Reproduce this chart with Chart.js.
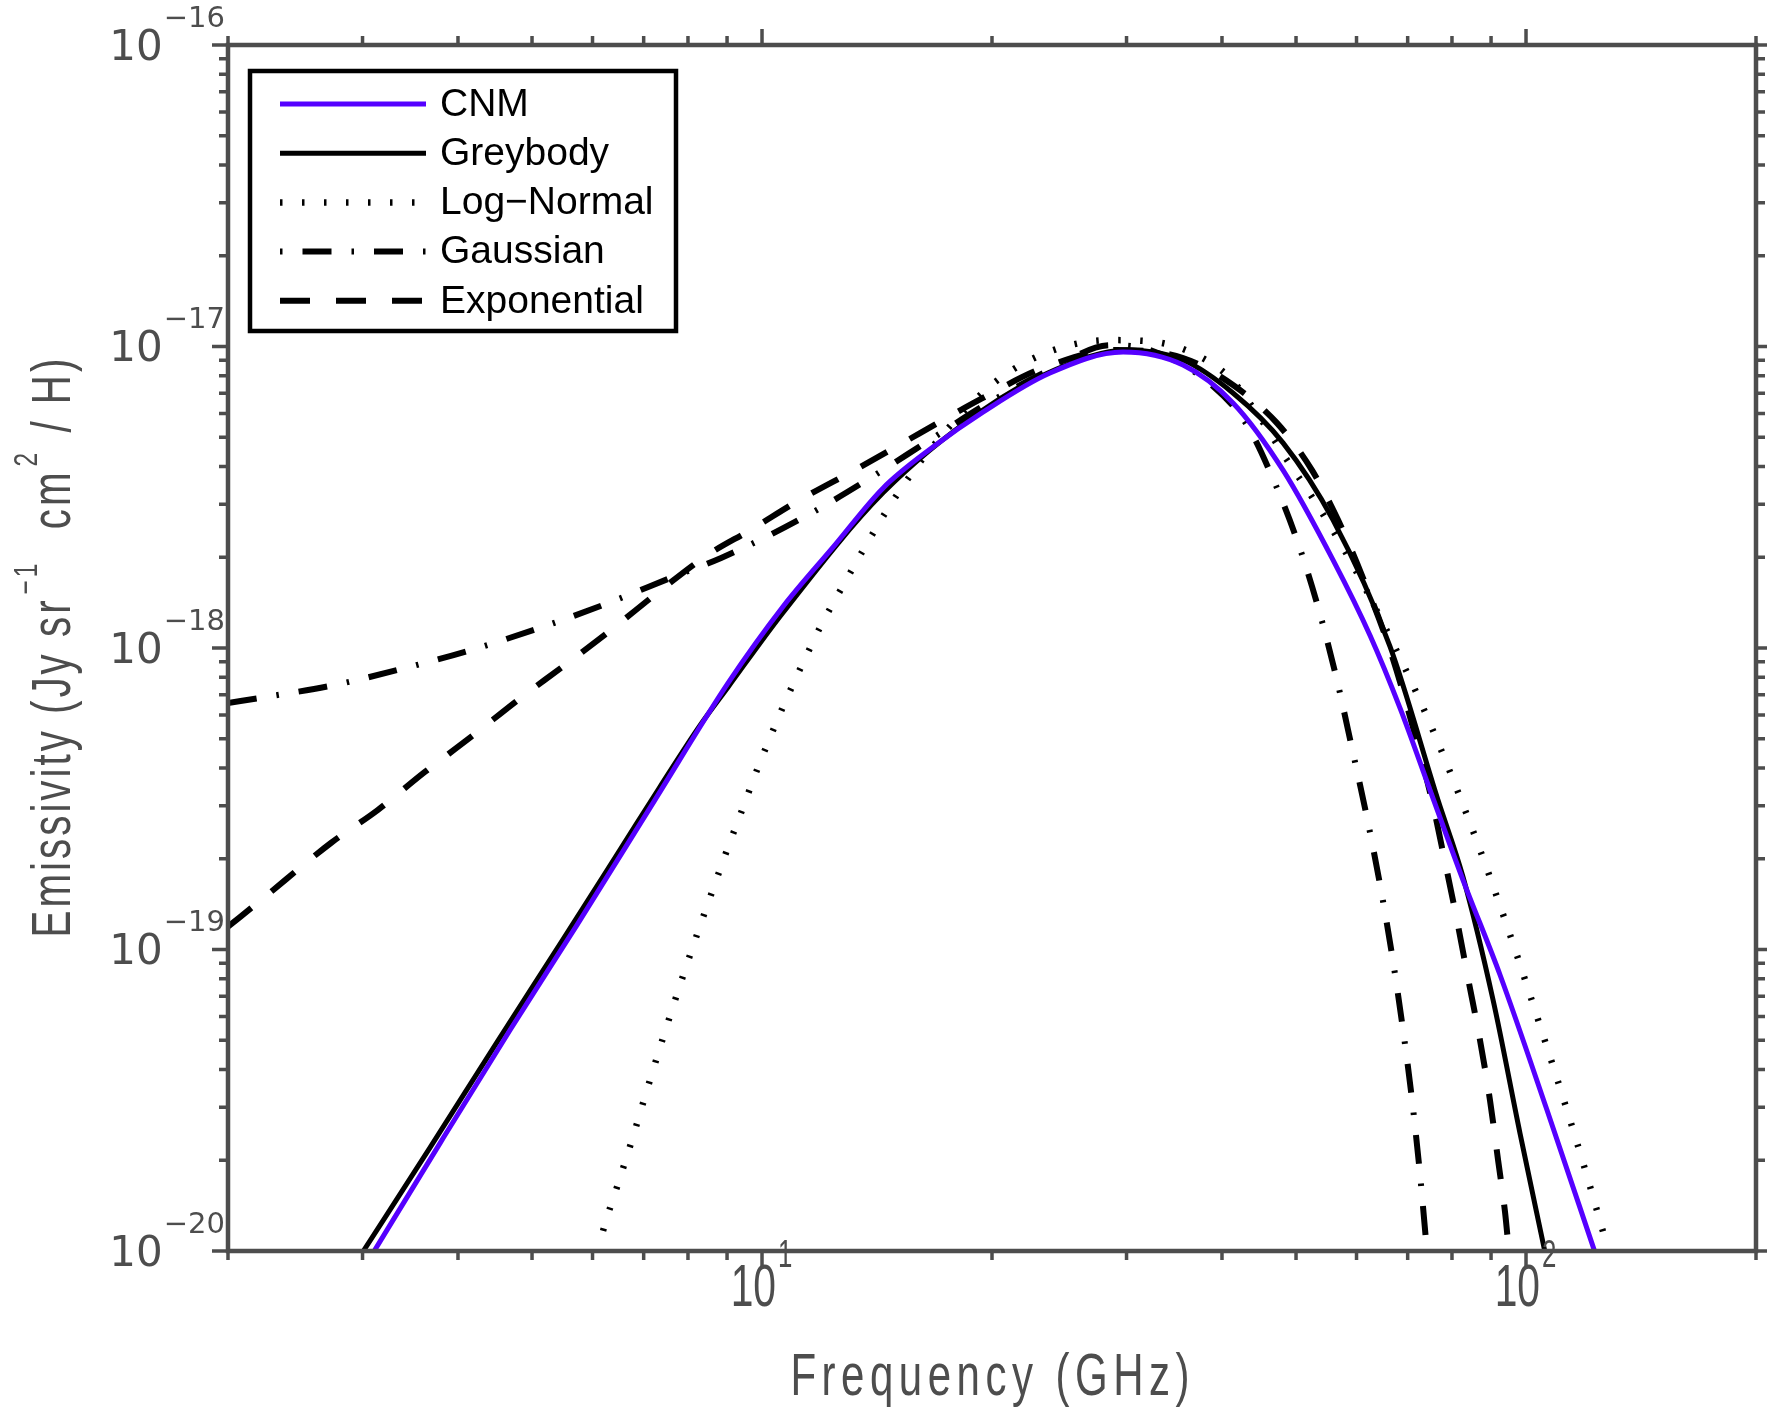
<!DOCTYPE html>
<html>
<head>
<meta charset="utf-8">
<title>Emissivity vs frequency</title>
<script src="https://cdn.jsdelivr.net/npm/chart.js@4.4.1/dist/chart.umd.min.js"></script>
<style>
  html, body { margin: 0; padding: 0; background: #fff; }
  #wrap { width: 1767px; height: 1411px; position: relative; }
</style>
</head>
<body>
<div id="wrap"><canvas id="myChart"></canvas></div>
<script>
// frequency in GHz, emissivity in Jy sr^-1 cm^2 / H
const cnmFreq = [3.10, 3.79, 4.68, 5.73, 7.24, 9.03, 10.65, 12.39, 14.40, 16.74, 19.46, 23.82, 29.69, 35.57, 41.35, 48.08, 55.89, 62.50, 68.41, 74.88, 82.71, 92.48, 106.5, 123.1];
const cnmEmis = [9.9e-21, 2.28e-20, 5.41e-20, 1.21e-19, 3.13e-19, 7.66e-19, 1.37e-18, 2.16e-18, 3.39e-18, 4.64e-18, 6.06e-18, 8.17e-18, 9.59e-18, 8.68e-18, 6.50e-18, 3.89e-18, 1.96e-18, 1.10e-18, 6.32e-19, 3.38e-19, 1.70e-19, 8.23e-20, 2.94e-20, 9.9e-21];

const greyFreq = [3.00, 3.68, 4.50, 5.49, 6.54, 7.35, 8.30, 9.03, 10.65, 14.40, 19.46, 23.82, 30.05, 35.57, 41.35, 48.08, 55.89, 66.38, 76.70, 82.71, 90.55, 98.20, 105.9];
const greyEmis = [9.9e-21, 2.21e-20, 4.93e-20, 1.08e-19, 2.17e-19, 3.46e-19, 5.55e-19, 7.43e-19, 1.31e-18, 3.27e-18, 6.16e-18, 8.23e-18, 9.74e-18, 9.02e-18, 7.01e-18, 4.79e-18, 2.66e-18, 1.01e-18, 3.13e-19, 1.74e-19, 6.80e-20, 2.46e-20, 9.9e-21];

const logNormFreq = [6.10, 6.19, 6.46, 6.76, 7.07, 7.42, 7.81, 8.22, 8.60, 9.00, 9.44, 9.85, 10.65, 11.28, 11.91, 12.73, 13.56, 14.58, 15.72, 17.00, 18.44, 20.18, 22.43, 25.30, 28.54, 32.20, 36.33, 40.98, 44.86, 48.66, 52.46, 58.30, 65.98, 73.76, 83.71, 93.89, 106.5, 113.1, 119.5, 128.4];
const logNormEmis = [9.9e-21, 1.16e-20, 1.63e-20, 2.34e-20, 3.42e-20, 5.09e-20, 7.62e-20, 1.12e-19, 1.55e-19, 2.14e-19, 2.95e-19, 3.94e-19, 6.37e-19, 8.78e-19, 1.17e-18, 1.59e-18, 2.11e-18, 2.87e-18, 3.81e-18, 4.90e-18, 6.16e-18, 7.62e-18, 9.02e-18, 1.01e-17, 1.05e-17, 1.04e-17, 9.59e-18, 7.86e-18, 5.79e-18, 4.20e-18, 3.17e-18, 2.04e-18, 1.12e-18, 6.13e-19, 2.79e-19, 1.25e-19, 4.75e-20, 2.94e-20, 1.86e-20, 9.9e-21];

const gaussFreq = [2.00, 2.24, 2.76, 3.41, 4.16, 5.14, 6.29, 7.60, 8.84, 10.24, 11.91, 13.85, 16.59, 19.88, 23.82, 28.54, 32.20, 38.93, 43.13, 46.23, 50.15, 53.42, 56.56, 59.18, 61.94, 64.41, 66.78, 69.03, 70.93, 72.66, 74.21];
const gaussEmis = [6.57e-19, 6.88e-19, 7.54e-19, 8.58e-19, 9.85e-19, 1.17e-18, 1.41e-18, 1.71e-18, 1.99e-18, 2.37e-18, 2.91e-18, 3.66e-18, 4.90e-18, 6.55e-18, 8.36e-18, 1.01e-17, 9.74e-18, 7.39e-18, 5.49e-18, 3.84e-18, 2.28e-18, 1.37e-18, 7.83e-19, 4.66e-19, 2.73e-19, 1.64e-19, 9.59e-20, 5.41e-20, 3.17e-20, 1.79e-20, 9.9e-21];

const expFreq = [2.00, 2.21, 2.73, 3.14, 3.62, 4.16, 4.79, 5.52, 6.35, 7.38, 8.50, 9.65, 11.21, 13.44, 16.10, 19.46, 23.33, 29.15, 35.57, 41.35, 47.22, 52.46, 56.74, 61.17, 66.38, 71.57, 75.56, 78.34, 81.22, 83.96, 87.04, 89.70, 91.93, 93.89, 95.00];
const expEmis = [1.19e-19, 1.46e-19, 2.26e-19, 2.90e-19, 3.88e-19, 5.07e-19, 6.72e-19, 8.78e-19, 1.15e-18, 1.56e-18, 2.04e-18, 2.46e-18, 3.10e-18, 3.98e-18, 5.16e-18, 6.75e-18, 8.49e-18, 9.74e-18, 9.16e-18, 7.45e-18, 5.57e-18, 3.89e-18, 2.66e-18, 1.71e-18, 9.85e-19, 5.15e-19, 3.01e-19, 1.95e-19, 1.25e-19, 8.04e-20, 5.01e-20, 3.17e-20, 2.00e-20, 1.34e-20, 9.9e-21];

// axis ticks and labels
const xTicks = [2, 3, 4, 5, 6, 7, 8, 9, 10, 20, 30, 40, 50, 60, 70, 80, 90, 100, 200];
const xLabelTicks = [10, 100];
const xLabelExps = ['1', '2'];
const yDecades = [-20, -19, -18, -17, -16];
const yLabelExps = ['\u221220', '\u221219', '\u221218', '\u221217', '\u221216'];

const AXIS = '#4d4d4d';
const SANS = '"Liberation Sans", Arial, sans-serif';

function toPoints(xs, ys) {
  return xs.map((x, i) => ({ x, y: ys[i] }));
}

function isMajor(v) {
  const l = Math.log10(v);
  return Math.abs(l - Math.round(l)) < 1e-6;
}

const yTicks = [];
yDecades.forEach((d) => {
  const base = Math.pow(10, d);
  yTicks.push(base);
  if (d < -16) {
    for (let m = 2; m <= 9; m += 1) yTicks.push(m * base);
  }
});

// draw text char by char so it can be condensed and spaced
function runWidth(ctx, text, font, sx, ls) {
  ctx.font = font;
  let w = 0;
  for (const ch of text) w += ctx.measureText(ch).width * sx + ls;
  return w - ls;
}
function drawRun(ctx, text, font, sx, ls, x, y) {
  ctx.font = font;
  for (const ch of text) {
    ctx.save();
    ctx.translate(x, y);
    ctx.scale(sx, 1);
    ctx.fillText(ch, 0, 0);
    ctx.restore();
    x += ctx.measureText(ch).width * sx + ls;
  }
  return x;
}
// parts: [{t, sup}]
function drawRich(ctx, parts, cx, cy, o) {
  const fontOf = (p) => `${p.sup ? o.supSize : o.size}px ${SANS}`;
  let total = 0;
  parts.forEach((p, i) => {
    total += runWidth(ctx, p.t, fontOf(p), o.sx, o.ls);
    if (i < parts.length - 1) total += o.ls;
  });
  let x = cx - total / 2;
  parts.forEach((p) => {
    x = drawRun(ctx, p.t, fontOf(p), o.sx, o.ls, x, p.sup ? cy - o.rise : cy) + o.ls;
  });
}

const datasets = [
  {
    label: 'CNM',
    data: toPoints(cnmFreq, cnmEmis),
    borderColor: '#5500ff',
    borderWidth: 5,
    legendDash: [],
  },
  {
    label: 'Greybody',
    data: toPoints(greyFreq, greyEmis),
    borderColor: '#000000',
    borderWidth: 5,
    legendDash: [],
  },
  {
    label: 'Log\u2212Normal',
    data: toPoints(logNormFreq, logNormEmis),
    borderColor: '#000000',
    borderWidth: 6.5,
    borderDash: [2.5, 19.5],
    legendDash: [2.5, 19.5],
  },
  {
    label: 'Gaussian',
    data: toPoints(gaussFreq, gaussEmis),
    borderColor: '#000000',
    borderWidth: 6,
    borderDash: [29, 20, 2.5, 20],
    legendDash: [29, 20, 2.5, 20],
    legendOffset: 49,
  },
  {
    label: 'Exponential',
    data: toPoints(expFreq, expEmis),
    borderColor: '#000000',
    borderWidth: 6,
    borderDash: [30, 26],
    legendDash: [30, 26],
  },
];

const framePlugin = {
  id: 'frame',
  afterDraw(chart) {
    const { ctx, chartArea: a } = chart;
    const xs = chart.scales.x;
    const ys = chart.scales.y;
    ctx.save();

    // ticks, pointing outward on all four sides
    ctx.strokeStyle = AXIS;
    ctx.lineWidth = 3.5;
    ctx.beginPath();
    xTicks.forEach((v) => {
      const px = xs.getPixelForValue(v);
      const len = isMajor(v) ? 16 : 9;
      ctx.moveTo(px, a.bottom);
      ctx.lineTo(px, a.bottom + len);
      ctx.moveTo(px, a.top);
      ctx.lineTo(px, a.top - len);
    });
    yTicks.forEach((v) => {
      const py = ys.getPixelForValue(v);
      const len = isMajor(v) ? 16 : 9;
      ctx.moveTo(a.left, py);
      ctx.lineTo(a.left - len, py);
      ctx.moveTo(a.right, py);
      ctx.lineTo(a.right + len, py);
    });
    ctx.stroke();

    // axis box
    ctx.lineWidth = 4.5;
    ctx.strokeRect(a.left, a.top, a.right - a.left, a.bottom - a.top);

    ctx.fillStyle = AXIS;
    ctx.textBaseline = 'middle';

    // y tick labels 10^n
    yDecades.forEach((d, i) => {
      const py = ys.getPixelForValue(Math.pow(10, d));
      ctx.textAlign = 'right';
      ctx.font = '29px "DejaVu Sans", sans-serif';
      const ew = ctx.measureText(yLabelExps[i]).width;
      ctx.fillText(yLabelExps[i], a.left - 3, py - 26);
      ctx.font = '42px "DejaVu Sans", sans-serif';
      ctx.fillText('10', a.left - 3 - ew - 1, py + 4);
    });

    // x tick labels 10^n, condensed
    ctx.textAlign = 'left';
    xLabelTicks.forEach((v, i) => {
      const px = xs.getPixelForValue(v);
      const w = runWidth(ctx, '10', `60px ${SANS}`, 0.68, 0);
      drawRun(ctx, '10', `60px ${SANS}`, 0.68, 0, px + 14 - w, a.bottom + 38);
      drawRun(ctx, xLabelExps[i], `38px ${SANS}`, 0.68, 0, px + 16, a.bottom + 6);
    });

    // axis titles
    drawRich(ctx, [{ t: 'Frequency (GHz)' }], (a.left + a.right) / 2 - 2, 1378,
      { size: 60, supSize: 34, sx: 0.7, ls: 5.5, rise: 22 });

    ctx.save();
    ctx.translate(55, (a.top + a.bottom) / 2 + 6);
    ctx.rotate(-Math.PI / 2);
    drawRich(ctx, [
      { t: 'Emissivity (Jy sr' },
      { t: '\u22121', sup: true },
      { t: '  cm' },
      { t: '2', sup: true },
      { t: ' / H)' },
    ], 0, 0, { size: 56, supSize: 34, sx: 0.72, ls: 3, rise: 27 });
    ctx.restore();

    // legend box in the upper left corner of the plot
    const box = { l: 250, t: 71, r: 676, b: 331 };
    ctx.fillStyle = '#ffffff';
    ctx.fillRect(box.l, box.t, box.r - box.l, box.b - box.t);
    ctx.strokeStyle = '#000000';
    ctx.lineWidth = 4.5;
    ctx.strokeRect(box.l, box.t, box.r - box.l, box.b - box.t);

    ctx.fillStyle = '#000000';
    ctx.font = `39px ${SANS}`;
    ctx.textAlign = 'left';
    chart.data.datasets.forEach((ds, i) => {
      const y = 104 + i * 49.2;
      ctx.save();
      ctx.strokeStyle = ds.borderColor;
      ctx.lineWidth = ds.borderWidth;
      ctx.setLineDash(ds.legendDash);
      ctx.lineDashOffset = ds.legendOffset || 0;
      ctx.beginPath();
      ctx.moveTo(280, y);
      ctx.lineTo(426, y);
      ctx.stroke();
      ctx.restore();
      ctx.fillText(ds.label, 440, y + 1);
    });

    ctx.restore();
  },
};

new Chart(document.getElementById('myChart'), {
  type: 'line',
  data: { datasets },
  options: {
    responsive: true,
    maintainAspectRatio: false,
    animation: false,
    devicePixelRatio: 1,
    layout: { padding: { left: 228, top: 45, right: 11, bottom: 160 } },
    elements: {
      point: { radius: 0 },
      line: { cubicInterpolationMode: 'monotone', fill: false },
    },
    plugins: { legend: { display: false }, tooltip: { enabled: false } },
    scales: {
      x: { type: 'logarithmic', min: 2, max: 200, display: false },
      y: { type: 'logarithmic', min: 1e-20, max: 1e-16, display: false },
    },
  },
  plugins: [framePlugin],
});
</script>
</body>
</html>
